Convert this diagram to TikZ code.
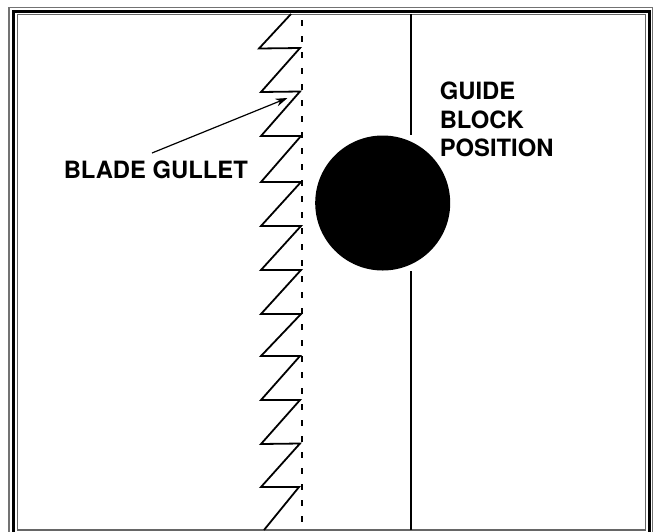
\documentclass[tikz,border=0pt]{standalone}
\usepackage{fontspec}
\setmainfont{TeX Gyre Heros}
\usetikzlibrary{arrows.meta}
\begin{document}
\begin{tikzpicture}[x=1pt,y=-1pt,
  lbl/.style={font=\bfseries\fontsize{23.8}{28.5}\selectfont,inner sep=0pt,anchor=west,align=left},
  saw/.style={line width=1.8pt,line join=miter,miter limit=4,black},
  rule/.style={line width=1.8pt,black}]
\useasboundingbox (0,0) rectangle (653,531);
\fill[white] (0,0) rectangle (653,531);
\draw[line width=1.6pt,black!55] (9,7.5) rectangle (652.4,540);
\draw[line width=3pt,black] (13.8,11) rectangle (649.2,540);
\draw[line width=1.6pt,black!60] (17.5,14.5) -- (645.3,14.5) -- (645.3,530) -- (17.5,530) -- cycle;
\coordinate (sawtop) at (291,14);
\coordinate (sawend) at (264,530);
\draw[saw] (sawtop)
  -- (259,48.5) -- (300,48)
  -- (261,92) -- (300,91.5)
  -- (261,136) -- (301,136)
  -- (261,182) -- (301,182)
  -- (261,226) -- (301,226)
  -- (261,270) -- (301,270)
  -- (261,314) -- (301,314)
  -- (261,356) -- (300,356)
  -- (261,400) -- (300,400)
  -- (261,444) -- (300,443.5)
  -- (261,487) -- (299,487)
  -- (sawend);
\coordinate (dt) at (302,20);
\coordinate (db) at (302,530);
\draw[line width=1.3pt,dash pattern=on 5.5pt off 10.5pt] (dt) -- (db);
\coordinate (g1) at (411,14);
\coordinate (g2) at (411,530);
\node[circle,fill=black,minimum size=135pt,inner sep=0pt] (blk) at (382.7,203) {};
\draw[rule] (g1) -- (g1 |- blk.north);
\draw[rule] (g2) -- (g2 |- blk.south);
\node[lbl] (bg) at (63.6,169.5) {BLADE GULLET};
\node[lbl] (gb) at (439.6,119.5) {GUIDE\\BLOCK\\POSITION};
\coordinate (atip) at (287.5,98);
\coordinate (atail) at (152,153);
\draw[line width=1.2pt,-{Stealth[length=12pt,width=8pt]}] (atail) -- (atip);
\end{tikzpicture}
\end{document}
